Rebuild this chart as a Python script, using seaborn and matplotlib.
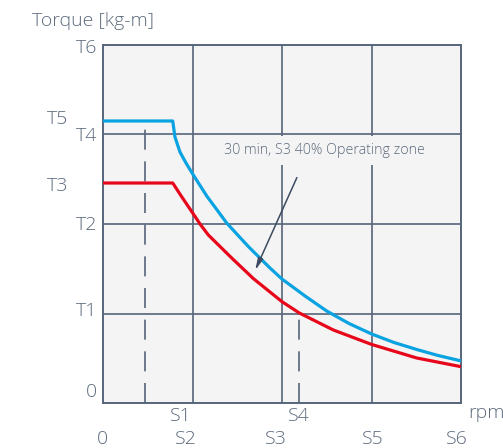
import numpy as np
import pandas as pd
import matplotlib.pyplot as plt
import seaborn as sns

# curve points (grid units: 1 = one grid cell)
speed_s3 = [0.0, 0.779, 0.804, 0.860, 0.927, 1.002, 1.159, 1.382, 1.623, 1.866,
            2.000, 2.257, 2.499, 2.749, 3.002, 3.251, 3.505, 3.743, 3.989]
torque_s3 = [3.151, 3.151, 2.972, 2.804, 2.682, 2.559, 2.313, 2.011, 1.749, 1.508,
             1.385, 1.196, 1.028, 0.888, 0.771, 0.676, 0.598, 0.531, 0.473]
speed_cont = [0.0, 0.779, 0.879, 1.002, 1.084, 1.177, 1.307, 1.438, 1.679, 1.866,
              2.000, 2.193, 2.573, 3.002, 3.505, 3.989]
torque_cont = [2.458, 2.458, 2.305, 2.123, 2.000, 1.877, 1.749, 1.620, 1.391, 1.240,
               1.132, 1.006, 0.816, 0.654, 0.503, 0.408]

# hand placed axis labels: (label, value, extra left offset)
y_labels = [("T6", 3.97, 0.0), ("T5", 3.17, 0.32), ("T4", 2.98, 0.0), ("T3", 2.43, 0.32),
            ("T2", 1.99, 0.0), ("T1", 1.03, 0.0), ("0", 0.12, 0.0)]
x_labels_top = [("S1", 0.866), ("S4", 2.19)]
x_labels_bottom = [("0", -0.011), ("S2", 0.927), ("S3", 1.933), ("S5", 3.017), ("S6", 3.955)]
dash_x = [0.469, 2.19]
dash_top = [3.151, 1.006]

TXT = "#5d6b7d"
LINE = "#56657a"
BG = "#f4f4f4"

sns.set_style("white")
plt.rcParams["font.family"] = ["Open Sans", "DejaVu Sans"]
plt.rcParams["font.weight"] = "light"

fig = plt.figure(figsize=(5.03, 4.48), dpi=100)
ax = fig.add_axes([103 / 503, 1 - 403 / 448, 358 / 503, 358 / 448])
ax.set_facecolor(BG)

df_s3 = pd.DataFrame({"speed": speed_s3, "torque": torque_s3})
df_cont = pd.DataFrame({"speed": speed_cont, "torque": torque_cont})

# grid
for v in [1, 2, 3]:
    ax.axvline(v, color=LINE, lw=1.2, zorder=1)
    ax.axhline(v, color=LINE, lw=1.2, zorder=1)

for xv, top in zip(dash_x, dash_top):
    ax.plot([xv, xv], [0, top], color=LINE, lw=1.2, dashes=(12, 7), zorder=2)

sns.lineplot(data=df_s3, x="speed", y="torque", sort=False, color="#0aa3e2",
             lw=2.3, ax=ax, zorder=4)
sns.lineplot(data=df_cont, x="speed", y="torque", sort=False, color="#e8061b",
             lw=2.3, ax=ax, zorder=4)
for ln in ax.get_lines():
    ln.set_solid_joinstyle("round")

ax.annotate("", xy=(1.687, 1.453), xytext=(2.179, 2.547),
            arrowprops=dict(arrowstyle="-|>,head_length=0.7,head_width=0.15",
                            color="#3d4b60", lw=1.1), zorder=5)
ax.text(2.475, 2.82, "30 min, S3 40% Operating zone", ha="center", va="center",
        fontsize=10.3, color=TXT, zorder=3,
        bbox=dict(facecolor=BG, edgecolor="none", pad=5))

ax.set_xlim(0, 4)
ax.set_ylim(0, 4)
ax.set_xticks([])
ax.set_yticks([])
ax.set_xlabel("")
ax.set_ylabel("")
for s in ax.spines.values():
    s.set_color(LINE)
    s.set_linewidth(1.4)

for lab, yv, off in y_labels:
    ax.text(-0.067 - off, yv, lab, ha="right", va="center", fontsize=14, color=TXT)
for lab, xv in x_labels_top:
    ax.text(xv, -0.145, lab, ha="center", va="center", fontsize=14, color=TXT)
for lab, xv in x_labels_bottom:
    ax.text(xv, -0.40, lab, ha="center", va="center", fontsize=14, color=TXT)
ax.text(4.078, -0.112, "rpm", ha="left", va="center", fontsize=14, color=TXT)

fig.text(32 / 503, 1 - 21 / 448, "Torque [kg-m]", ha="left", va="center",
         fontsize=14, color=TXT)

fig.savefig("out.png", dpi=100)
